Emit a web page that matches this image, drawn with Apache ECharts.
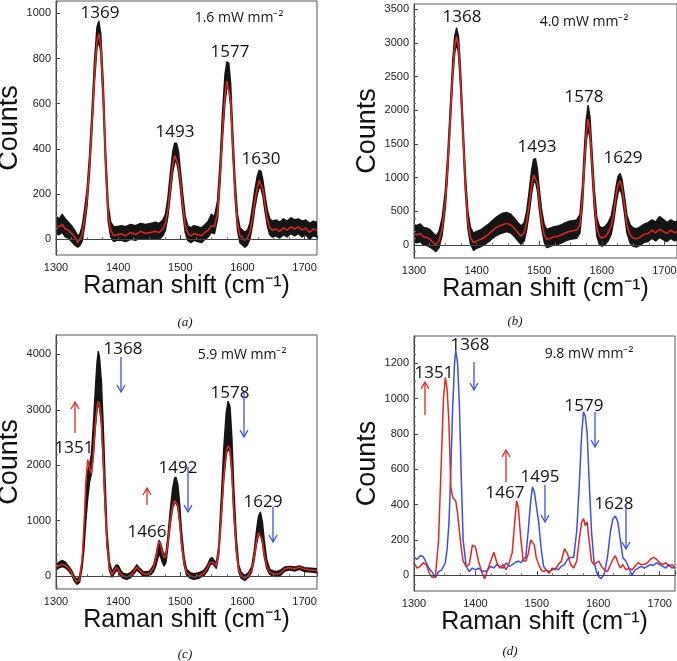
<!DOCTYPE html>
<html><head><meta charset="utf-8">
<script src="https://cdn.jsdelivr.net/npm/echarts@6/dist/echarts.min.js"></script>
<style>html,body{margin:0;padding:0;background:#fff}#c{width:677px;height:661px}</style>
</head><body><div id="c"></div>
<script>
// ---------- Panel (a) 1.6 mW mm-2 ----------
const xA = [1300,1305,1310,1315,1320,1325,1330,1335,1338,1342,1346,1350,1354,1358,1362,1366,1369,1372,1376,1380,1384,1388,1393,1398,1405,1412,1420,1428,1436,1444,1452,1460,1466,1472,1476,1480,1484,1488,1491,1494,1497,1500,1504,1508,1512,1517,1522,1528,1534,1540,1545,1550,1555,1560,1564,1568,1572,1575,1578,1581,1584,1588,1592,1596,1600,1604,1608,1612,1616,1620,1624,1627,1630,1633,1636,1640,1644,1648,1654,1660,1666,1672,1678,1684,1690,1696,1702,1708,1714,1720];
const redA = [60,55,65,45,40,25,10,-15,-10,20,90,180,330,520,730,880,910,860,640,330,110,40,15,20,25,15,30,20,35,25,30,35,30,45,70,130,230,330,370,370,330,260,150,60,25,15,25,20,15,30,40,60,55,120,280,480,640,700,700,620,440,220,70,15,5,-5,5,30,90,170,230,260,255,220,160,90,50,40,45,35,50,40,55,45,55,40,50,30,45,40];
const hiA = [100,90,110,90,75,60,40,15,20,55,130,220,370,570,790,940,965,910,690,380,150,75,55,55,60,55,65,60,70,65,70,75,70,85,110,180,290,390,425,425,390,310,195,100,60,50,60,55,50,65,80,110,100,170,340,560,730,785,780,690,500,270,110,50,40,30,40,70,140,220,280,305,300,260,200,130,90,80,85,75,90,80,95,85,90,80,85,70,80,75];
const loA = [25,20,30,10,5,-10,-25,-35,-30,-10,60,150,300,490,700,850,880,830,600,300,80,10,-10,-5,-5,-10,0,-5,5,0,0,5,0,15,40,100,200,300,340,345,300,230,120,30,-5,-15,-5,-10,-15,0,10,30,25,90,250,450,610,670,670,590,410,190,40,-15,-25,-35,-25,0,60,140,200,230,225,190,130,60,20,10,15,5,20,10,25,15,25,10,20,0,15,10];

// ---------- Panel (b) 4.0 mW mm-2 ----------
const xB = [1300,1305,1310,1315,1320,1325,1330,1335,1340,1345,1350,1354,1358,1362,1365,1368,1371,1374,1378,1382,1386,1390,1395,1400,1406,1412,1418,1424,1430,1436,1442,1448,1454,1460,1466,1471,1476,1480,1484,1488,1491,1494,1497,1500,1504,1508,1512,1518,1524,1530,1536,1542,1548,1554,1560,1565,1569,1572,1575,1578,1581,1584,1588,1592,1596,1600,1605,1610,1615,1619,1623,1626,1629,1632,1636,1640,1645,1650,1656,1662,1668,1674,1680,1686,1692,1698,1704,1710,1716,1720];
const redB = [160,150,170,120,110,90,40,0,60,250,650,1200,1900,2600,2950,3100,2950,2500,1700,900,350,120,30,60,80,110,150,200,250,280,300,320,300,250,180,130,180,350,600,900,1040,1050,920,650,350,150,80,100,120,130,150,180,200,210,220,300,700,1200,1650,1870,1700,1250,650,250,130,100,120,180,280,480,750,900,950,870,600,300,150,100,90,120,160,170,220,180,230,200,170,220,180,200];
const hiB = [300,290,310,260,250,230,180,130,200,400,800,1350,2050,2750,3100,3220,3100,2650,1850,1050,500,260,170,200,220,260,300,350,400,440,470,480,460,400,330,280,330,500,800,1120,1270,1280,1130,830,500,300,230,250,270,280,300,330,350,360,370,450,870,1400,1850,2070,1900,1430,820,400,280,250,270,330,430,630,880,1020,1060,980,730,440,300,250,240,270,310,330,370,340,420,380,330,370,340,350];
const loB = [40,30,50,0,-10,-30,-60,-100,-40,150,550,1100,1800,2500,2850,3000,2850,2400,1600,800,250,20,-80,-50,-30,0,40,90,130,160,180,200,180,130,60,10,60,230,480,780,930,940,810,540,240,40,-40,-20,0,10,30,60,80,90,100,180,580,1080,1530,1750,1580,1130,530,130,10,-20,0,60,160,360,630,780,830,750,480,180,30,-20,-30,0,40,50,100,60,110,80,50,100,60,80];

// ---------- Panel (c) 5.9 mW mm-2 ----------
const xC = [1300,1305,1310,1315,1320,1325,1330,1334,1338,1342,1345,1348,1351,1354,1357,1360,1363,1366,1368,1370,1373,1376,1379,1382,1386,1390,1394,1397,1400,1404,1408,1414,1420,1426,1430,1434,1440,1446,1452,1457,1461,1464,1466,1468,1471,1474,1477,1480,1484,1488,1491,1493,1496,1499,1502,1506,1510,1516,1522,1530,1538,1544,1548,1551,1554,1558,1562,1566,1570,1574,1577,1580,1583,1586,1590,1594,1598,1604,1610,1615,1619,1623,1626,1629,1632,1635,1639,1644,1650,1656,1662,1668,1676,1684,1692,1700,1710,1720];
const redC = [150,190,210,190,140,60,-60,-110,-60,300,900,1700,2100,1950,1850,2200,2700,3050,3150,3100,2800,2100,1300,600,150,20,100,160,130,40,0,-20,10,90,160,110,40,30,60,150,350,550,620,580,430,330,370,600,1000,1280,1360,1370,1280,1000,600,250,60,0,-20,0,50,150,250,280,240,180,450,1100,1800,2250,2350,2300,1900,1200,500,120,0,-40,20,120,350,650,780,780,650,400,180,70,40,30,60,130,150,130,160,120,110,100];
const hiC = [200,250,280,250,180,100,-20,-70,0,250,700,1400,1900,2000,2200,2700,3300,3850,4050,3950,3500,2700,1700,800,250,80,150,200,190,100,50,30,60,130,200,150,80,70,100,200,380,560,640,600,480,380,420,700,1200,1600,1770,1780,1650,1300,800,350,120,60,40,60,100,200,310,330,290,230,550,1400,2300,2950,3150,3050,2500,1600,700,200,60,10,60,170,450,850,1080,1150,980,650,300,120,90,80,110,160,170,160,180,150,140,130];
const loC = [110,150,170,150,100,20,-100,-150,-110,150,500,1000,1400,1700,1850,2150,2650,3000,3100,3050,2750,2050,1250,550,100,-20,50,100,80,0,-40,-60,-30,50,110,70,0,-10,20,80,200,330,380,360,250,180,250,530,950,1240,1320,1330,1240,960,560,210,20,-40,-60,-40,10,100,200,230,200,140,400,1050,1750,2200,2300,2250,1850,1150,450,80,-40,-80,-20,80,300,600,740,740,610,360,140,30,0,-10,20,90,110,90,120,80,70,60];

// ---------- Panel (d) 9.8 mW mm-2 ----------
const xD = [1300,1305,1310,1315,1320,1325,1330,1335,1340,1345,1348,1351,1354,1357,1360,1363,1366,1368,1371,1374,1377,1380,1385,1390,1395,1400,1405,1410,1415,1420,1425,1430,1435,1440,1445,1450,1455,1460,1464,1467,1470,1474,1478,1482,1486,1490,1493,1496,1499,1503,1507,1511,1515,1520,1525,1530,1535,1540,1545,1550,1555,1560,1565,1569,1573,1576,1579,1582,1585,1589,1593,1597,1601,1605,1610,1615,1620,1624,1628,1632,1636,1640,1645,1650,1655,1660,1665,1670,1675,1680,1685,1690,1695,1700,1705,1710,1715,1720,1725];
const blueD = [100,90,110,105,70,35,15,-15,20,30,50,70,150,300,600,950,1200,1275,1200,950,550,200,50,20,40,30,40,25,20,30,50,40,60,45,40,70,50,60,70,60,80,70,90,100,250,420,500,470,480,300,150,50,30,20,30,40,30,50,60,90,100,100,250,500,800,925,900,800,550,250,80,20,-10,-20,10,100,250,320,335,300,200,100,80,40,0,30,40,50,40,50,60,55,70,60,50,40,60,40,45];
const redD = [70,40,50,70,60,10,-15,0,200,700,1000,1120,1050,850,500,440,430,420,350,250,150,80,50,60,170,160,80,20,-20,30,80,130,70,40,60,30,70,130,300,420,380,200,80,80,120,200,210,170,100,60,30,20,30,10,40,30,60,80,150,120,60,40,80,200,300,320,280,300,200,80,60,70,80,50,30,20,60,90,110,70,40,60,30,40,30,50,70,60,60,70,90,100,90,70,60,70,50,60,40];

// ---------- tick labels ----------
const xTicks = [1300,1400,1500,1600,1700];
const yTicksA = [0,200,400,600,800,1000];
const yTicksB = [0,500,1000,1500,2000,2500,3000,3500];
const yTicksC = [0,1000,2000,3000,4000];
const yTicksD = [0,200,400,600,800,1000,1200];

const pairs = (xs, ys) => xs.map((x, i) => [x, ys[i]]);
const chart = echarts.init(document.getElementById('c'), null, {renderer: 'canvas'});

const grids = [
  {left: 56, top: 1, width: 261, height: 254},
  {left: 414, top: 4, width: 263, height: 254},
  {left: 56, top: 335, width: 261, height: 254},
  {left: 414, top: 336, width: 261, height: 255}
].map(g => Object.assign({show: true, borderColor: '#555', borderWidth: 1, containLabel: false, outerBoundsMode: 'none'}, g));

const yConf = [
  {min: -70, max: 1055, ticks: yTicksA, minorStep: 50},
  {min: -195, max: 3580, ticks: yTicksB, minorStep: 100},
  {min: -235, max: 4350, ticks: yTicksC, minorStep: 200},
  {min: -90, max: 1355, ticks: yTicksD, minorStep: 50}
];
const xMax = [1720, 1720, 1720, 1725];
function minorList(min, max, step, majors) {
  const out = [];
  for (let v = Math.ceil(min / step) * step; v <= max; v += step) if (!majors.includes(v)) out.push(v);
  return out;
}

const labelFont = {fontFamily: 'Liberation Sans', fontSize: 11, color: '#222'};
const xAxes = grids.map((g, i) => ({
  gridIndex: i, type: 'value', min: 1300, max: xMax[i], interval: 100, z: 5,
  name: 'Raman shift (cm\u207B\u00B9)', nameLocation: 'middle', nameGap: 17,
  nameTextStyle: {fontFamily: 'Liberation Sans', fontSize: 25, color: '#111'},
  axisLine: {lineStyle: {color: '#444'}},
  axisTick: {inside: true, length: 4, lineStyle: {color: '#444'}},
  minorTick: {show: true, splitNumber: 4, length: 2, lineStyle: {color: '#777'}},
  splitLine: {show: false},
  axisLabel: Object.assign({margin: 7, formatter: v => xTicks.includes(v) ? String(v) : ''}, labelFont)
}));
const yAxes = [];
yConf.forEach((c, i) => {
  yAxes.push({
    gridIndex: i, type: 'value', min: c.min, max: c.max, z: 5,
    name: 'Counts', nameLocation: 'middle', nameGap: 31,
    nameTextStyle: {fontFamily: 'Liberation Sans', fontSize: 27, color: '#111'},
    axisLine: {show: true, lineStyle: {color: '#444'}},
    axisTick: {show: true, inside: true, length: 4, customValues: c.ticks, lineStyle: {color: '#444'}},
    splitLine: {show: false},
    axisLabel: Object.assign({margin: 5, customValues: c.ticks, formatter: v => String(Math.round(v))}, labelFont)
  });
});
yConf.forEach((c, i) => {
  yAxes.push({
    gridIndex: i, type: 'value', min: c.min, max: c.max, position: 'left', z: 5,
    axisLine: {show: false}, splitLine: {show: false}, axisLabel: {show: false},
    axisTick: {show: true, inside: true, length: 2, customValues: minorList(c.min, c.max, c.minorStep, c.ticks), lineStyle: {color: '#777'}}
  });
});

const BLACK = '#151515', RED = '#e3261f', BLUE = '#3a4fe0';
const series = [];
function band(i, xs, lo, hi) {
  series.push({
    type: 'custom', xAxisIndex: i, yAxisIndex: i, clip: true, z: 2,
    data: xs.map((x, j) => [x, lo[j], hi[j]]),
    encode: {x: 0, y: [1, 2]},
    renderItem: (params, api) => {
      if (params.dataIndex !== 0) return null;
      const n = params.dataInsideLength;
      const top = [], bot = [];
      for (let k = 0; k < n; k++) {
        top.push(api.coord([api.value(0, k), api.value(2, k)]));
        bot.push(api.coord([api.value(0, k), api.value(1, k)]));
      }
      return {type: 'polygon', shape: {points: top.concat(bot.reverse())},
        style: {fill: BLACK, stroke: BLACK, lineWidth: 1.5, lineJoin: 'round'}};
    }
  });
}
function line(i, xs, ys, color, w, z) {
  series.push({type: 'line', xAxisIndex: i, yAxisIndex: i, data: pairs(xs, ys), symbol: 'none',
    lineStyle: {color: color, width: w}, z: z});
}
band(0, xA, loA, hiA); line(0, xA, redA, RED, 1.5, 3);
band(1, xB, loB, hiB); line(1, xB, redB, RED, 1.5, 3);
band(2, xC, loC, hiC); line(2, xC, redC, RED, 1.5, 3);
line(3, xD, blueD, BLUE, 1.5, 3); line(3, xD, redD, RED, 1.5, 4);

// ---------- annotations ----------
const graphic = [];
function txt(s, x, y, size, font, color, style) {
  graphic.push({type: 'text', x: x, y: y, z: 100, style: {text: s, fill: color || '#111',
    font: (style || '') + ' ' + size + 'px ' + (font || '"Open Sans"'),
    textAlign: 'center', textVerticalAlign: 'middle', align: 'center', verticalAlign: 'middle'}});
}
function arrow(x, y1, y2, color) {
  const d = y2 > y1 ? 1 : -1;
  graphic.push({type: 'line', z: 100, shape: {x1: x, y1: y1, x2: x, y2: y2}, style: {stroke: color, lineWidth: 1.3}});
  graphic.push({type: 'polyline', z: 100, shape: {points: [[x - 4, y2 - d * 7], [x, y2], [x + 4, y2 - d * 7]]}, style: {stroke: color, lineWidth: 1.3, fill: null}});
}
const PK = 17;
// (a)
txt('1369', 100, 13, PK); txt('1493', 175, 132, PK); txt('1577', 230, 52, PK); txt('1630', 261, 159, PK);
txt('1.6 mW mm\u207B\u00B2', 239, 18, 14);
// (b)
txt('1368', 462, 17, PK); txt('1493', 537, 147, PK); txt('1578', 584, 97, PK); txt('1629', 623, 158, PK);
txt('4.0 mW mm\u207B\u00B2', 584, 22, 14);
// (c)
txt('1368', 123, 349, PK); txt('1351', 74, 448, PK); txt('1466', 147, 532, PK); txt('1492', 178, 468, PK);
txt('1578', 230, 393, PK); txt('1629', 263, 502, PK);
txt('5.9 mW mm\u207B\u00B2', 242, 355, 14);
arrow(75, 433, 402, RED); arrow(121, 357, 392, BLUE); arrow(147, 505, 488, RED);
arrow(188, 467, 512, BLUE); arrow(244, 392, 437, BLUE); arrow(273, 507, 542, BLUE);
// (d)
txt('1368', 470, 345, PK); txt('1351', 434, 373, PK); txt('1467', 505, 493, PK); txt('1495', 540, 477, PK);
txt('1579', 584, 406, PK); txt('1628', 614, 504, PK);
txt('9.8 mW mm\u207B\u00B2', 589, 354, 14);
arrow(425, 415, 382, RED); arrow(474, 362, 390, BLUE); arrow(506, 482, 450, RED);
arrow(545, 485, 522, BLUE); arrow(595, 412, 447, BLUE); arrow(626, 504, 549, BLUE);
// captions
txt('(a)', 185, 323, 13, '"Liberation Serif"', '#111', 'italic');
txt('(b)', 515, 322, 13, '"Liberation Serif"', '#111', 'italic');
txt('(c)', 185, 655, 13, '"Liberation Serif"', '#111', 'italic');
txt('(d)', 510, 652, 13, '"Liberation Serif"', '#111', 'italic');

chart.setOption({
  animation: false,
  backgroundColor: '#fff',
  grid: grids, xAxis: xAxes, yAxis: yAxes, series: series, graphic: graphic
});
</script></body></html>
